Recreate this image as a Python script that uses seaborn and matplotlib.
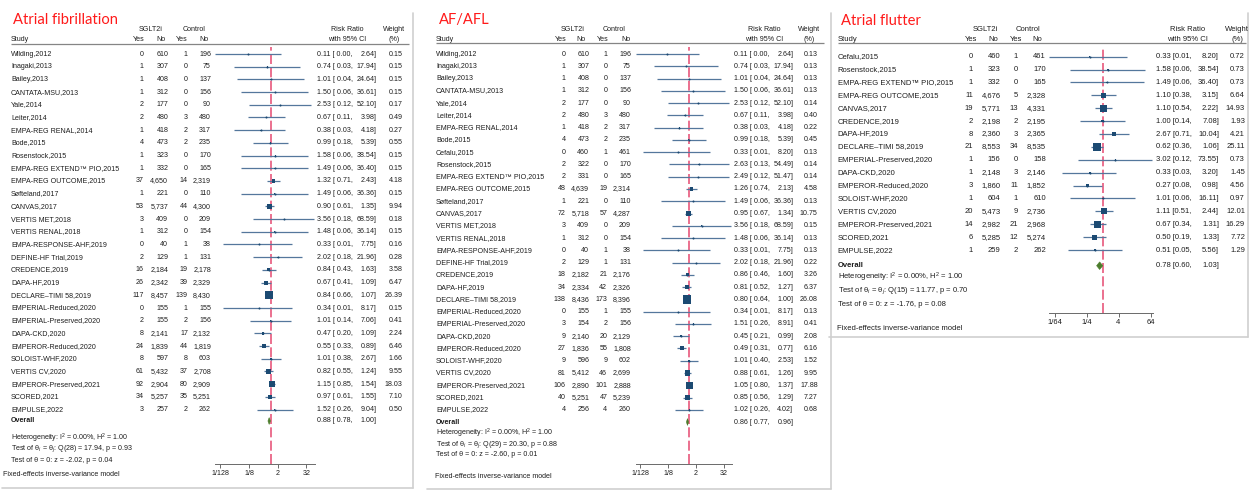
import numpy as np
import pandas as pd
import matplotlib
matplotlib.use("Agg")
import matplotlib.pyplot as plt
from matplotlib.ticker import NullLocator
import seaborn as sns

# ---------------------------------------------------------------------------
# Atrial fibrillation
# ---------------------------------------------------------------------------
af_study = ["Wilding,2012", "Inagaki,2013", "Bailey,2013", "CANTATA-MSU,2013", "Yale,2014",
            "Leiter,2014", "EMPA-REG RENAL,2014", "Bode,2015", "Rosenstock,2015",
            "EMPA-REG EXTEND\u2122 PIO,2015", "EMPA-REG OUTCOME,2015", "S\u00f8fteland,2017",
            "CANVAS,2017", "VERTIS MET,2018", "VERTIS RENAL,2018", "EMPA-RESPONSE-AHF,2019",
            "DEFINE-HF Trial,2019", "CREDENCE,2019", "DAPA-HF,2019", "DECLARE\u2013TIMI 58,2019",
            "EMPERIAL-Reduced,2020", "EMPERIAL-Preserved,2020", "DAPA-CKD,2020",
            "EMPEROR-Reduced,2020", "SOLOIST-WHF,2020", "VERTIS CV,2020",
            "EMPEROR-Preserved,2021", "SCORED,2021", "EMPULSE,2022"]
af_sg_yes = [0, 1, 1, 1, 2, 2, 1, 4, 1, 1, 37, 1, 53, 3, 1, 0, 2, 16, 26, 117, 0, 2, 8, 24, 8, 61, 92, 34, 3]
af_sg_no = [610, 307, 408, 312, 177, 480, 418, 473, 323, 332, 4650, 221, 5737, 409, 312, 40, 129,
            2184, 2342, 8457, 155, 155, 2141, 1839, 597, 5432, 2904, 5257, 257]
af_ct_yes = [1, 0, 0, 0, 0, 3, 2, 2, 0, 0, 14, 0, 44, 0, 0, 1, 1, 19, 39, 139, 1, 2, 17, 44, 8, 37, 80, 35, 2]
af_ct_no = [196, 75, 137, 156, 90, 480, 317, 235, 170, 165, 2319, 110, 4300, 209, 154, 38, 131,
            2178, 2329, 8430, 155, 156, 2132, 1819, 603, 2708, 2909, 5251, 262]
af_rr = [0.11, 0.74, 1.01, 1.50, 2.53, 0.67, 0.38, 0.99, 1.58, 1.49, 1.32, 1.49, 0.90, 3.56, 1.48,
         0.33, 2.02, 0.84, 0.67, 0.84, 0.34, 1.01, 0.47, 0.55, 1.01, 0.82, 1.15, 0.97, 1.52]
af_lo = [0.00, 0.03, 0.04, 0.06, 0.12, 0.11, 0.03, 0.18, 0.06, 0.06, 0.71, 0.06, 0.61, 0.18, 0.06,
         0.01, 0.18, 0.43, 0.41, 0.66, 0.01, 0.14, 0.20, 0.33, 0.38, 0.55, 0.85, 0.61, 0.26]
af_hi = [2.64, 17.94, 24.64, 36.61, 52.10, 3.98, 4.18, 5.39, 38.54, 36.40, 2.43, 36.36, 1.35, 68.59,
         36.14, 7.75, 21.96, 1.63, 1.09, 1.07, 8.17, 7.06, 1.09, 0.89, 2.67, 1.24, 1.54, 1.55, 9.04]
af_weight = [0.15, 0.15, 0.15, 0.15, 0.17, 0.49, 0.27, 0.55, 0.15, 0.15, 4.18, 0.15, 9.94, 0.18, 0.15,
             0.16, 0.28, 3.58, 6.47, 26.39, 0.15, 0.41, 2.24, 6.46, 1.66, 9.55, 18.03, 7.10, 0.50]
af_overall = (0.88, 0.78, 1.00)
af_stats = dict(i2=0.00, h2=1.00, q_df=28, q=17.94, q_p=0.93, z=-2.02, z_p=0.04)

# ---------------------------------------------------------------------------
# AF/AFL
# ---------------------------------------------------------------------------
afl_study = ["Wilding,2012", "Inagaki,2013", "Bailey,2013", "CANTATA-MSU,2013", "Yale,2014",
             "Leiter,2014", "EMPA-REG RENAL,2014", "Bode,2015", "Cefalu,2015", "Rosenstock,2015",
             "EMPA-REG EXTEND\u2122 PIO,2015", "EMPA-REG OUTCOME,2015", "S\u00f8fteland,2017",
             "CANVAS,2017", "VERTIS MET,2018", "VERTIS RENAL,2018", "EMPA-RESPONSE-AHF,2019",
             "DEFINE-HF Trial,2019", "CREDENCE,2019", "DAPA-HF,2019", "DECLARE\u2013TIMI 58,2019",
             "EMPERIAL-Reduced,2020", "EMPERIAL-Preserved,2020", "DAPA-CKD,2020",
             "EMPEROR-Reduced,2020", "SOLOIST-WHF,2020", "VERTIS CV,2020",
             "EMPEROR-Preserved,2021", "SCORED,2021", "EMPULSE,2022"]
afl_sg_yes = [0, 1, 1, 1, 2, 2, 1, 4, 0, 2, 2, 48, 1, 72, 3, 1, 0, 2, 18, 34, 138, 0, 3, 9, 27, 9,
              81, 106, 40, 4]
afl_sg_no = [610, 307, 408, 312, 177, 480, 418, 473, 460, 322, 331, 4639, 221, 5718, 409, 312, 40,
             129, 2182, 2334, 8436, 155, 154, 2140, 1836, 596, 5412, 2890, 5251, 256]
afl_ct_yes = [1, 0, 0, 0, 0, 3, 2, 2, 1, 0, 0, 19, 0, 57, 0, 0, 1, 1, 21, 42, 173, 1, 2, 20, 55, 9,
              46, 101, 47, 4]
afl_ct_no = [196, 75, 137, 156, 90, 480, 317, 235, 461, 170, 165, 2314, 110, 4287, 209, 154, 38,
             131, 2176, 2326, 8396, 155, 156, 2129, 1808, 602, 2699, 2888, 5239, 260]
afl_rr = [0.11, 0.74, 1.01, 1.50, 2.53, 0.67, 0.38, 0.99, 0.33, 2.63, 2.49, 1.26, 1.49, 0.95, 3.56,
          1.48, 0.33, 2.02, 0.86, 0.81, 0.80, 0.34, 1.51, 0.45, 0.49, 1.01, 0.88, 1.05, 0.85, 1.02]
afl_lo = [0.00, 0.03, 0.04, 0.06, 0.12, 0.11, 0.03, 0.18, 0.01, 0.13, 0.12, 0.74, 0.06, 0.67, 0.18,
          0.06, 0.01, 0.18, 0.46, 0.52, 0.64, 0.01, 0.26, 0.21, 0.31, 0.40, 0.61, 0.80, 0.56, 0.26]
afl_hi = [2.64, 17.94, 24.64, 36.61, 52.10, 3.98, 4.18, 5.39, 8.20, 54.49, 51.47, 2.13, 36.36, 1.34,
          68.59, 36.14, 7.75, 21.96, 1.60, 1.27, 1.00, 8.17, 8.91, 0.99, 0.77, 2.53, 1.26, 1.37,
          1.29, 4.02]
afl_weight = [0.13, 0.13, 0.13, 0.13, 0.14, 0.40, 0.22, 0.45, 0.13, 0.14, 0.14, 4.58, 0.13, 10.75,
              0.15, 0.13, 0.13, 0.22, 3.26, 6.37, 26.08, 0.13, 0.41, 2.08, 6.16, 1.52, 9.95, 17.88,
              7.27, 0.68]
afl_overall = (0.86, 0.77, 0.96)
afl_stats = dict(i2=0.00, h2=1.00, q_df=29, q=20.30, q_p=0.88, z=-2.60, z_p=0.01)

# ---------------------------------------------------------------------------
# Atrial flutter
# ---------------------------------------------------------------------------
fl_study = ["Cefalu,2015", "Rosenstock,2015", "EMPA-REG EXTEND\u2122 PIO,2015",
            "EMPA-REG OUTCOME,2015", "CANVAS,2017", "CREDENCE,2019", "DAPA-HF,2019",
            "DECLARE\u2013TIMI 58,2019", "EMPERIAL-Preserved,2020", "DAPA-CKD,2020",
            "EMPEROR-Reduced,2020", "SOLOIST-WHF,2020", "VERTIS CV,2020",
            "EMPEROR-Preserved,2021", "SCORED,2021", "EMPULSE,2022"]
fl_sg_yes = [0, 1, 1, 11, 19, 2, 8, 21, 1, 1, 3, 1, 20, 14, 6, 1]
fl_sg_no = [460, 323, 332, 4676, 5771, 2198, 2360, 8553, 156, 2148, 1860, 604, 5473, 2982, 5285, 259]
fl_ct_yes = [1, 0, 0, 5, 13, 2, 3, 34, 0, 3, 11, 1, 9, 21, 12, 2]
fl_ct_no = [461, 170, 165, 2328, 4331, 2195, 2365, 8535, 158, 2146, 1852, 610, 2736, 2968, 5274, 262]
fl_rr = [0.33, 1.58, 1.49, 1.10, 1.10, 1.00, 2.67, 0.62, 3.02, 0.33, 0.27, 1.01, 1.11, 0.67, 0.50, 0.51]
fl_lo = [0.01, 0.06, 0.06, 0.38, 0.54, 0.14, 0.71, 0.36, 0.12, 0.03, 0.08, 0.06, 0.51, 0.34, 0.19, 0.05]
fl_hi = [8.20, 38.54, 36.40, 3.15, 2.22, 7.08, 10.04, 1.06, 73.55, 3.20, 0.98, 16.11, 2.44, 1.31,
         1.33, 5.56]
fl_weight = [0.72, 0.73, 0.73, 6.64, 14.93, 1.93, 4.21, 25.11, 0.73, 1.45, 4.56, 0.97, 12.01, 16.29,
             7.72, 1.29]
fl_overall = (0.78, 0.60, 1.03)
fl_stats = dict(i2=0.00, h2=1.00, q_df=15, q=11.77, q_p=0.70, z=-1.76, z_p=0.08)

# x-axis ticks of the risk-ratio scale
ticks_wide = [2 ** -7, 2 ** -3, 2, 32]
ticks_wide_labels = ["1/128", "1/8", "2", "32"]
ticks_narrow = [2 ** -6, 2 ** -2, 4, 64]
ticks_narrow_labels = ["1/64", "1/4", "4", "64"]

# ---------------------------------------------------------------------------
# styling
# ---------------------------------------------------------------------------
sns.set_theme(style="white")
plt.rcParams["font.family"] = ["Liberation Sans", "DejaVu Sans"]
plt.rcParams["mathtext.fontset"] = "custom"
plt.rcParams["mathtext.rm"] = "Liberation Sans"
plt.rcParams["mathtext.it"] = "Liberation Sans:italic"
plt.rcParams["mathtext.bf"] = "Liberation Sans:bold"

TXT = "#1e1e1e"
TITLE_RED = "#ff1a1a"
NAVY = "#1c4a72"
CI_COL = "#54779c"
REF_RED = "#e8587c"
DIAMOND = "#4c7d2c"
RULE = "#858585"
FRAME = "#cfcfcf"

W, H = 1250, 491
fig = plt.figure(figsize=(W / 100, H / 100), dpi=100)
fig.patch.set_facecolor("white")
base = fig.add_axes([0, 0, 1, 1])
base.set_xlim(0, W)
base.set_ylim(H, 0)
base.axis("off")

# page layout of each panel, in pixels
panels = [
    dict(title="Atrial fibrillation", title_xy=(13, 20), fs=5.1, x_study=11,
         hdr=(29, 39), rule=(11, 409, 43.5), y0=54, dy=12.7,
         cols=(144, 168.3, 188, 211), hdr_cols=(139, 160.5, 181.5, 204), grp=(151, 194),
         fx=(215, 315), zero_px=270.5, px_per=7.15, ftop=47, faxis=464,
         ticks=ticks_wide, tick_labels=ticks_wide_labels,
         rr_x=317.3, hi_x=376.7, w_x=402.3, rr_hdr=347, w_hdr=394.5, bracket="[ ",
         overall_y=421, stats_y=(438, 449, 460), foot=(3, 474), frame=(413, 13, 488),
         sq=1.55, hh=3.4,
         data=(af_study, af_sg_yes, af_sg_no, af_ct_yes, af_ct_no, af_rr, af_lo, af_hi, af_weight),
         overall=af_overall, stats=af_stats),
    dict(title="AF/AFL", title_xy=(439, 20), fs=5.1, x_study=436,
         hdr=(29, 39), rule=(436, 824, 43.3), y0=54, dy=12.27,
         cols=(565.7, 589.3, 607.3, 631), hdr_cols=(560.8, 581.3, 602.3, 625.5), grp=(572.5, 613.8),
         fx=(636, 731.7), zero_px=689, px_per=6.95, ftop=47, faxis=464,
         ticks=ticks_wide, tick_labels=ticks_wide_labels,
         rr_x=734.3, hi_x=793.3, w_x=817.7, rr_hdr=763.8, w_hdr=809.5, bracket="[ ",
         overall_y=422, stats_y=(433.3, 444.3, 455), foot=(435, 476.7), frame=(831, 13, 489),
         sq=1.62, hh=3.4,
         data=(afl_study, afl_sg_yes, afl_sg_no, afl_ct_yes, afl_ct_no, afl_rr, afl_lo, afl_hi,
               afl_weight),
         overall=afl_overall, stats=afl_stats),
    dict(title="Atrial flutter", title_xy=(841, 20.7), fs=5.5, x_study=837.7,
         hdr=(29.3, 39.3), rule=(837.7, 1246, 43.3), y0=56.7, dy=12.89,
         cols=(973, 1000.7, 1018, 1046), hdr_cols=(970.8, 993, 1016, 1037.5), grp=(985, 1027.5),
         fx=(1049, 1152.5), zero_px=1102.5, px_per=8.0, ftop=48, faxis=313,
         ticks=ticks_narrow, tick_labels=ticks_narrow_labels,
         rr_x=1155.7, hi_x=1219, w_x=1245, rr_hdr=1187.8, w_hdr=1237, bracket="[",
         overall_y=265.7, stats_y=(277.7, 291, 304.3), foot=(837, 329), frame=(1248, 13, 337),
         sq=1.75, hh=3.8,
         data=(fl_study, fl_sg_yes, fl_sg_no, fl_ct_yes, fl_ct_no, fl_rr, fl_lo, fl_hi, fl_weight),
         overall=fl_overall, stats=fl_stats),
]


def txt(x, y, s, fs, ha="left", **kw):
    base.text(x, y, s, fontsize=fs, ha=ha, va="center", color=TXT, **kw)


for P in panels:
    fs = P["fs"]
    study, sg_yes, sg_no, ct_yes, ct_no, rr, lo, hi, weight = P["data"]
    df = pd.DataFrame(dict(study=study, sg_yes=sg_yes, sg_no=sg_no, ct_yes=ct_yes, ct_no=ct_no,
                           rr=rr, lo=lo, hi=hi, weight=weight))
    n = len(df)
    df["y"] = P["y0"] + P["dy"] * np.arange(n)

    # title
    base.text(*P["title_xy"], P["title"], fontsize=10.6, family=["Lato", "DejaVu Sans"],
              color=TITLE_RED, ha="left", va="center")

    # column headers
    h1, h2 = P["hdr"]
    txt(P["grp"][0], h1, "SGLT2i", fs, ha="center")
    txt(P["grp"][1], h1, "Control", fs, ha="center")
    txt(P["x_study"], h2, "Study", fs)
    for cx, lab in zip(P["hdr_cols"], ["Yes", "No", "Yes", "No"]):
        txt(cx, h2, lab, fs, ha="center")
    txt(P["rr_hdr"], h1, "Risk Ratio", fs, ha="center")
    txt(P["rr_hdr"], h2, "with 95% CI", fs, ha="center")
    txt(P["w_hdr"], h1, "Weight", fs, ha="center")
    txt(P["w_hdr"], h2, "(%)", fs, ha="center")
    rx0, rx1, ry = P["rule"]
    base.plot([rx0, rx1], [ry, ry], color=RULE, lw=0.9, solid_capstyle="butt")

    # table rows
    c1, c2, c3, c4 = P["cols"]
    for r in df.itertuples():
        txt(P["x_study"], r.y, r.study, fs)
        txt(c1, r.y, f"{r.sg_yes:,}", fs, ha="right")
        txt(c2, r.y, f"{r.sg_no:,}", fs, ha="right")
        txt(c3, r.y, f"{r.ct_yes:,}", fs, ha="right")
        txt(c4, r.y, f"{r.ct_no:,}", fs, ha="right")
        txt(P["rr_x"], r.y, f"{r.rr:.2f} {P['bracket']}{r.lo:.2f},", fs)
        txt(P["hi_x"], r.y, f"{r.hi:.2f}]", fs, ha="right")
        txt(P["w_x"], r.y, f"{r.weight:.2f}", fs, ha="right")

    # overall row and summary statistics
    o_rr, o_lo, o_hi = P["overall"]
    oy = P["overall_y"]
    txt(P["x_study"], oy, "Overall", fs, fontweight="bold")
    txt(P["rr_x"], oy, f"{o_rr:.2f} {P['bracket']}{o_lo:.2f},", fs)
    txt(P["hi_x"], oy, f"{o_hi:.2f}]", fs, ha="right")
    st = P["stats"]
    s1, s2, s3 = P["stats_y"]
    txt(P["x_study"], s1, f"Heterogeneity: I$^2$ = {st['i2']:.2f}%, H$^2$ = {st['h2']:.2f}", fs)
    txt(P["x_study"], s2,
        f"Test of \u03b8${{}}_i$ = \u03b8${{}}_j$: Q({st['q_df']}) = {st['q']:.2f}, p = {st['q_p']:.2f}", fs)
    txt(P["x_study"], s3, f"Test of \u03b8 = 0: z = {st['z']:.2f}, p = {st['z_p']:.2f}", fs)
    txt(P["foot"][0], P["foot"][1], "Fixed-effects inverse-variance model", fs)

    # panel frame (right and bottom edges)
    fr_x, fr_top, fr_bot = P["frame"]
    base.plot([fr_x, fr_x], [fr_top, fr_bot], color=FRAME, lw=1.2)
    base.plot([P["x_study"] - 9, fr_x], [fr_bot, fr_bot], color=FRAME, lw=1.2)

    # forest plot on a log2 risk-ratio axis
    fxl, fxr = P["fx"]
    top, ax_y = P["ftop"], P["faxis"]
    fax = fig.add_axes([fxl / W, 1 - ax_y / H, (fxr - fxl) / W, (ax_y - top) / H])
    fax.patch.set_alpha(0)
    xmin = 2 ** ((fxl - P["zero_px"]) / P["px_per"])
    xmax = 2 ** ((fxr - P["zero_px"]) / P["px_per"])

    fax.axvline(1, color=REF_RED, lw=1.2, ls=(0, (6, 2)), zorder=1)
    fax.hlines(df["y"], np.clip(df["lo"], xmin, xmax), np.clip(df["hi"], xmin, xmax),
               color=CI_COL, lw=0.9, zorder=2)
    k = (P["sq"] * 0.72) ** 2
    wmax = df["weight"].max()
    sns.scatterplot(data=df, x="rr", y="y", size="weight", sizes=(0, k * wmax),
                    size_norm=(0, wmax), marker="s", color=NAVY, linewidth=0,
                    legend=False, ax=fax, zorder=3)
    sns.scatterplot(data=df, x="rr", y="y", marker="o", s=2.2, color=NAVY, linewidth=0,
                    legend=False, ax=fax, zorder=4)
    hh = P["hh"]
    fax.fill([o_lo, o_rr, o_hi, o_rr], [oy, oy - hh, oy, oy + hh], color=DIAMOND,
             ec=DIAMOND, lw=0.4, zorder=4)

    fax.set_xscale("log", base=2)
    fax.set_xlim(xmin, xmax)
    fax.set_ylim(ax_y, top)
    fax.set_xlabel("")
    fax.set_ylabel("")
    fax.set_yticks([])
    for side in ["top", "right", "left"]:
        fax.spines[side].set_visible(False)
    fax.spines["bottom"].set_color("#6a6a6a")
    fax.spines["bottom"].set_linewidth(0.7)
    fax.set_xticks(P["ticks"])
    fax.set_xticklabels(P["tick_labels"])
    fax.xaxis.set_minor_locator(NullLocator())
    fax.tick_params(axis="x", bottom=True, length=3, width=0.7, color="#6a6a6a",
                    labelsize=fs, pad=1.5, labelcolor=TXT)

fig.savefig("out.png", dpi=100, facecolor="white")
